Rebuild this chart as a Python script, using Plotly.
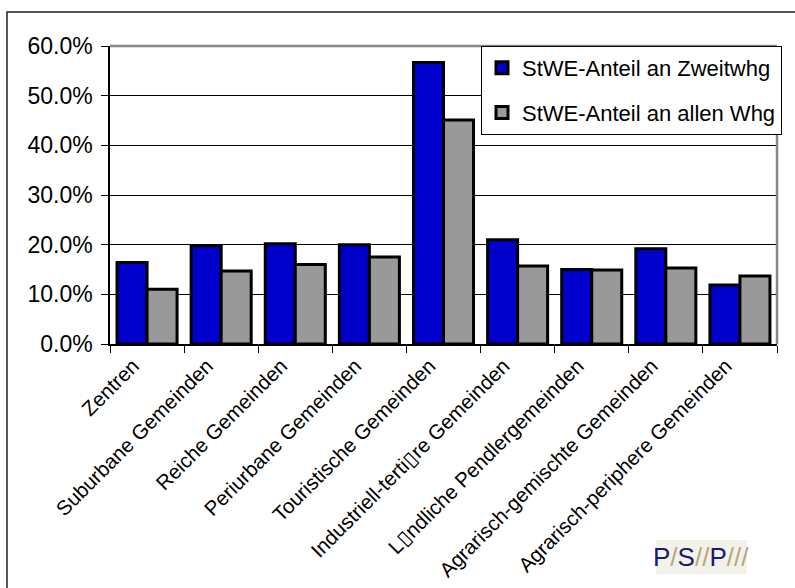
import plotly.graph_objects as go

categories = [
    "Zentren",
    "Suburbane Gemeinden",
    "Reiche Gemeinden",
    "Periurbane Gemeinden",
    "Touristische Gemeinden",
    "Industriell-terti\u25afre Gemeinden",
    "L\u25afndliche Pendlergemeinden",
    "Agrarisch-gemischte Gemeinden",
    "Agrarisch-periphere Gemeinden",
]
zweitwhg = [0.164, 0.198, 0.202, 0.200, 0.567, 0.210, 0.150, 0.192, 0.119]
alle_whg = [0.110, 0.147, 0.160, 0.175, 0.451, 0.157, 0.149, 0.153, 0.137]
series_names = ["StWE-Anteil an Zweitwhg", "StWE-Anteil an allen Whg"]
y_ticks = [0.0, 0.1, 0.2, 0.3, 0.4, 0.5, 0.6]

FONT = "Liberation Sans, Arial, sans-serif"

fig = go.Figure()
fig.add_trace(go.Bar(
    x=categories, y=zweitwhg, name=series_names[0], legendgroup="a",
    marker=dict(color="#0000cc", line=dict(color="#000000", width=3)),
))
fig.add_trace(go.Bar(
    x=categories, y=alle_whg, name=series_names[1], legendgroup="b",
    marker=dict(color="#999999", line=dict(color="#000000", width=3)),
))

W, H = 795, 588
L, R, T, B = 110, 777, 46, 344
pw, ph = R - L, B - T

def px(x):
    return (x - L) / pw

def py(y):
    return (B - y) / ph

shapes = [
    # outer frame (left and top edges visible)
    dict(type="rect", xref="paper", yref="paper", x0=px(7), y0=py(700), x1=px(900), y1=py(12),
         line=dict(color="#222222", width=1.5), fillcolor="rgba(0,0,0,0)", layer="below"),
    # gray top and right plot borders
    dict(type="line", xref="paper", yref="paper", x0=0, y0=1, x1=1, y1=1,
         line=dict(color="#888888", width=2.5)),
    dict(type="line", xref="paper", yref="paper", x0=1, y0=0, x1=1, y1=1,
         line=dict(color="#888888", width=2.5)),
    # logo background
    dict(type="rect", xref="paper", yref="paper", x0=px(656), y0=py(574), x1=px(747), y1=py(540),
         line=dict(width=0), fillcolor="#f3f2ea"),
]

tan = "#b8a77c"
navy = "#1a1a6e"
logo = (f"P<span style='color:{tan}'>/</span>S<span style='color:{tan}'>//</span>"
        f"P<span style='color:{tan}'>///</span>")

fig.update_layout(
    width=W, height=H,
    margin=dict(l=L, r=W - R, t=T, b=H - B, autoexpand=False),
    paper_bgcolor="white", plot_bgcolor="white",
    font=dict(family=FONT, color="#000000", size=22),
    barmode="group", bargap=0.19, bargroupgap=0.0,
    showlegend=True,
    legend=dict(
        x=px(481), y=1.0, xanchor="left", yanchor="top",
        bgcolor="white", bordercolor="#000000", borderwidth=1,
        font=dict(size=22, family=FONT), tracegroupgap=13,
    ),
    shapes=shapes,
    annotations=[dict(
        xref="paper", yref="paper", x=px(701), y=py(557), xanchor="center", yanchor="middle",
        text=logo, showarrow=False,
        font=dict(family="Liberation Sans Narrow, Arial Narrow, sans-serif", size=26, color=navy),
    )],
    xaxis=dict(
        tickangle=-45, tickfont=dict(size=20.5), showline=True, linecolor="#000000", linewidth=1.5,
        ticks="outside", ticklen=7, tickcolor="#000000", tickson="boundaries",
        ticklabelshift=-14, automargin=False,
        showgrid=False,
    ),
    yaxis=dict(
        range=[0, 0.6], tickvals=y_ticks, tickformat=".1%", tickfont=dict(size=23),
        showline=True, linecolor="#000000", linewidth=1.5,
        ticks="outside", ticklen=7, tickcolor="#000000", ticklabelstandoff=4,
        automargin=False,
        showgrid=True, gridcolor="#000000", gridwidth=1, zeroline=False,
    ),
)

fig.write_html("out.html")
